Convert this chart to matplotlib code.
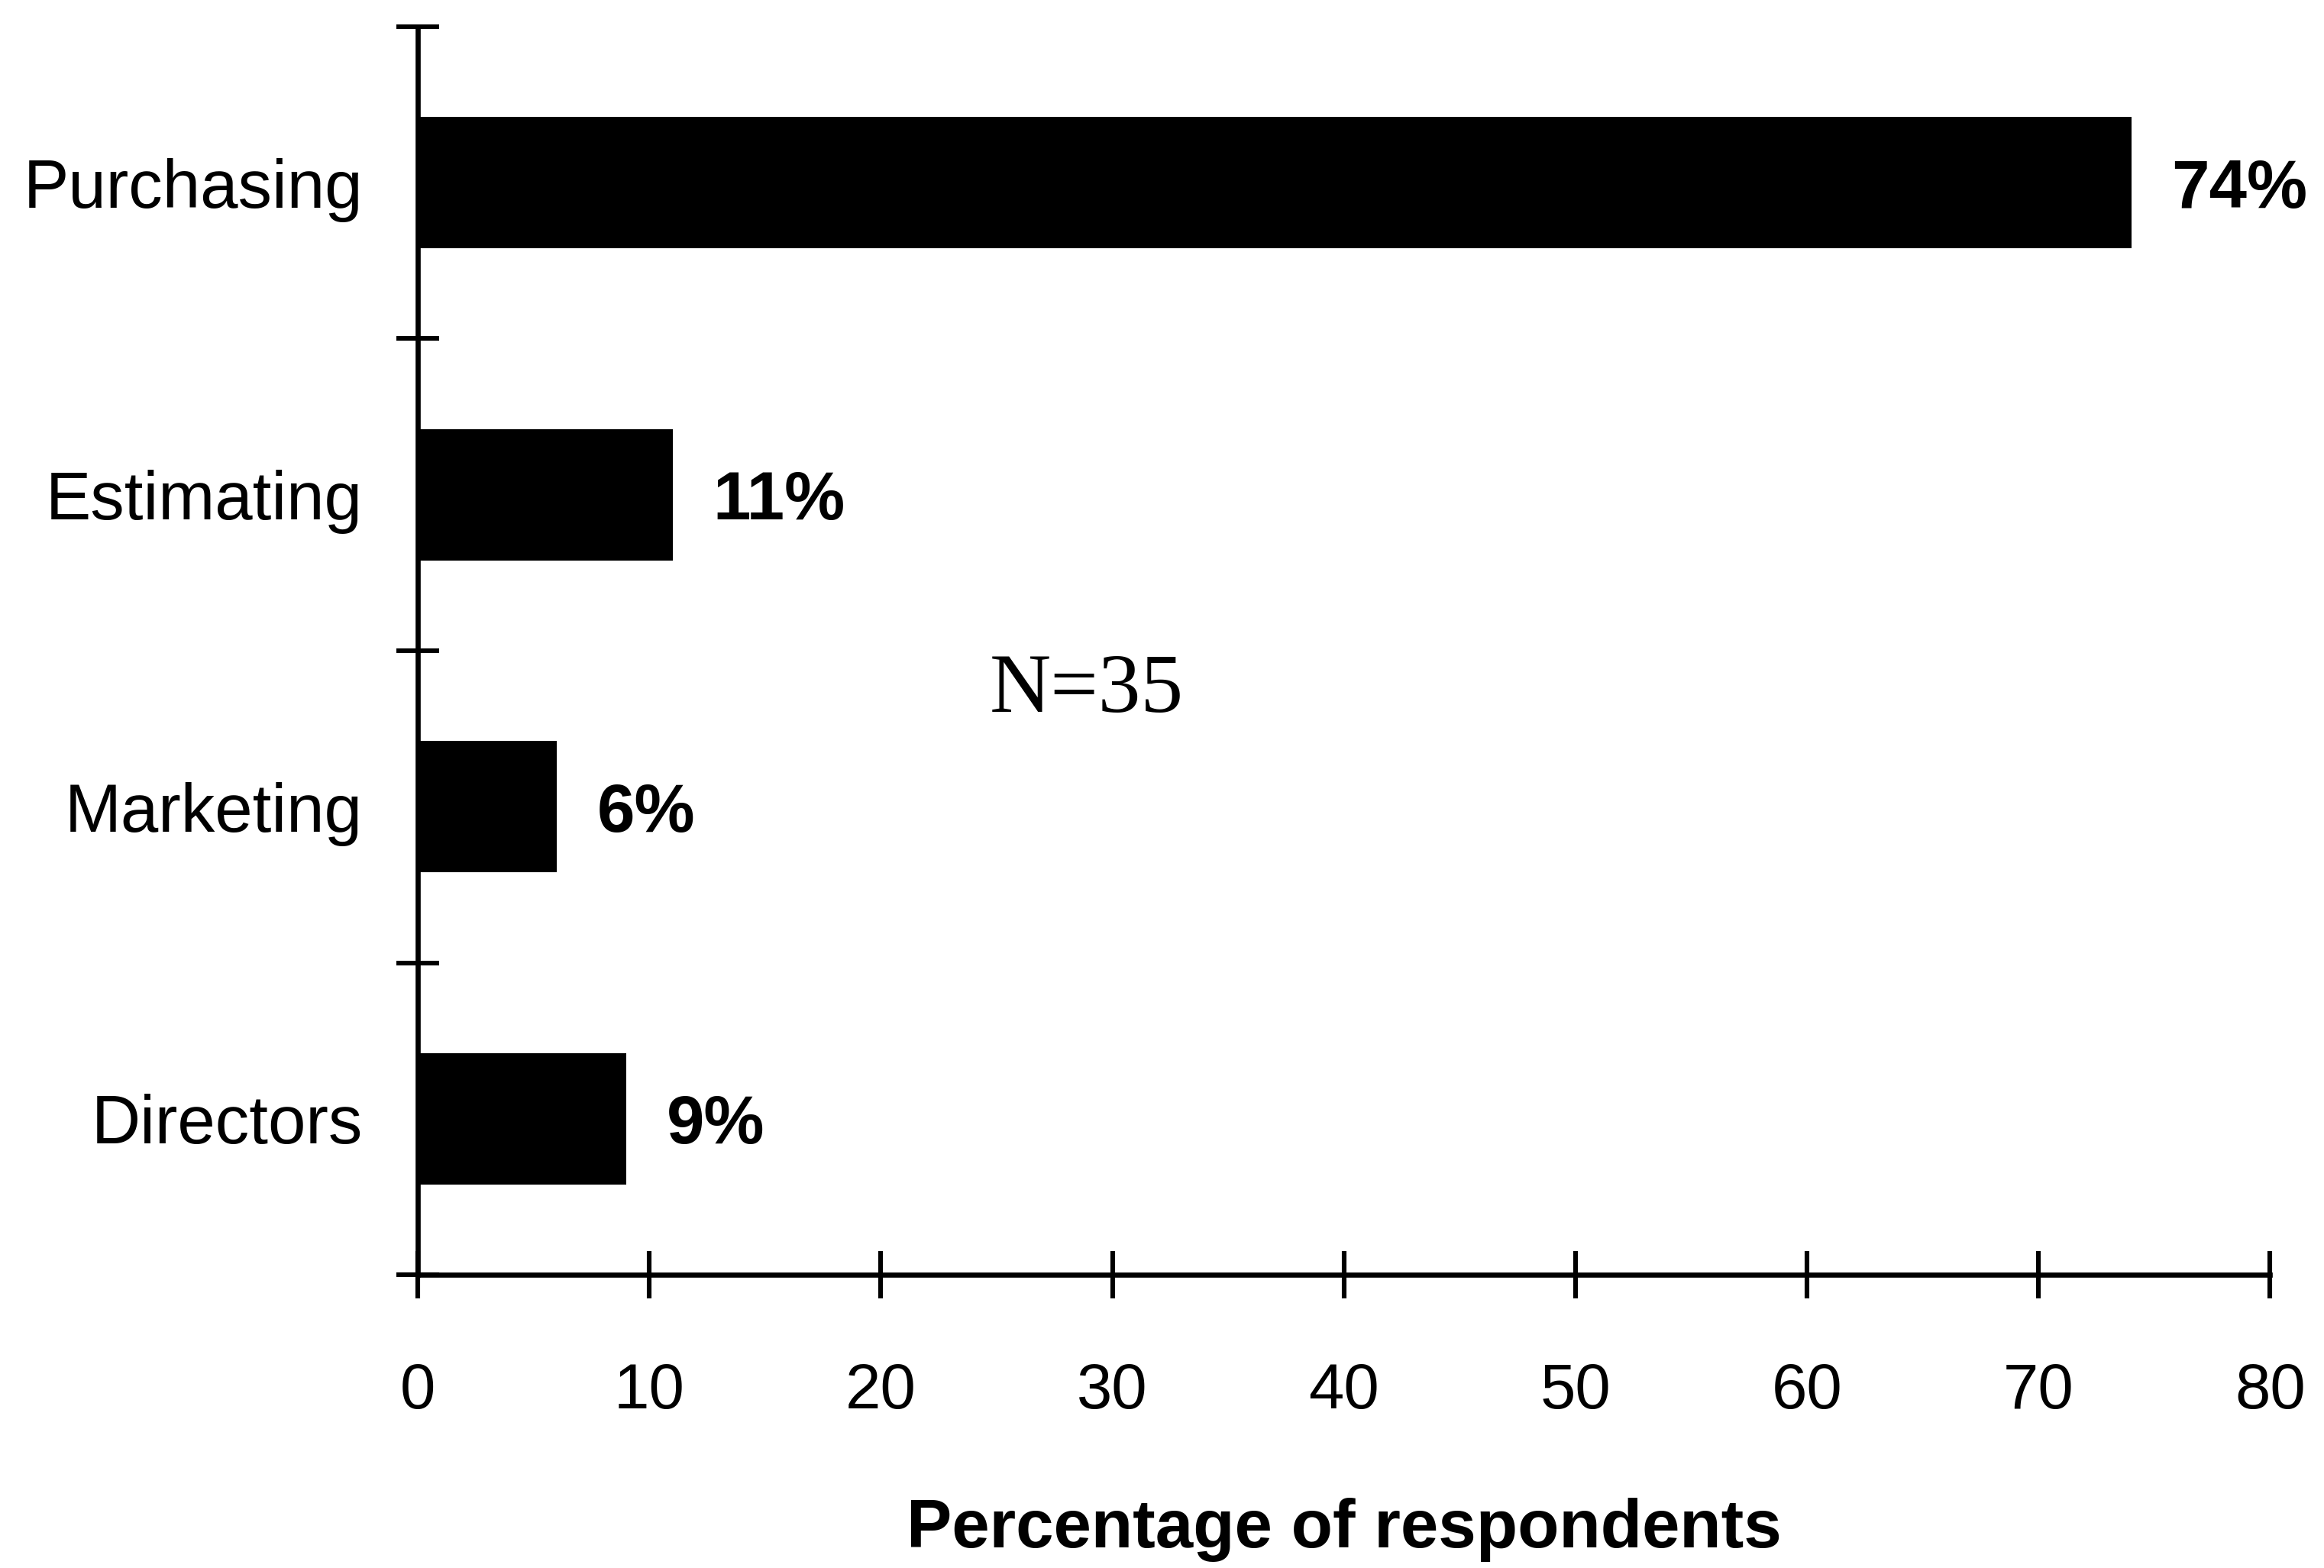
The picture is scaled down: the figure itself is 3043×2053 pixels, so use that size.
import matplotlib
matplotlib.use("Agg")
import matplotlib.pyplot as plt
import numpy as np

# respondents by department
departments = ["Purchasing", "Estimating", "Marketing", "Directors"]
percent = [74, 11, 6, 9]
pct_labels = ["74%", "11%", "6%", "9%"]
x_ticks = [0, 10, 20, 30, 40, 50, 60, 70, 80]
sample_note = "N=35"

plt.rcParams['font.family'] = ['Liberation Sans', 'DejaVu Sans']

fig = plt.figure(figsize=(15.215, 10.265), dpi=200)
ax = fig.add_axes([0.1798, 0.187, 0.797, 0.796])

pos = np.arange(len(departments))
bars = ax.barh(pos, percent, height=0.42, color='black')
texts = ax.bar_label(bars, labels=pct_labels, padding=19, fontsize=32,
                     fontweight='bold')
for t in texts:
    t.set_va('center_baseline')

ax.set_xlim(0, 80)
ax.set_ylim(len(departments) - 0.5, -0.5)

# category names sit on the bar centres, tick marks on the boundaries
ax.set_yticks(pos)
ax.set_yticklabels(departments, fontsize=32)
ax.tick_params(axis='y', which='major', length=0, pad=26)
ax.set_yticks(np.arange(-0.5, len(departments)), minor=True)
ax.tick_params(axis='y', which='minor', direction='inout', length=20, width=2.2)

ax.set_xticks(x_ticks)
ax.set_xticklabels([str(t) for t in x_ticks], fontsize=30)
ax.tick_params(axis='x', direction='inout', length=22, width=2.2, pad=30)

for side in ['top', 'right']:
    ax.spines[side].set_visible(False)
for side in ['left', 'bottom']:
    ax.spines[side].set_linewidth(2.4)

ax.set_xlabel("Percentage of respondents", fontsize=32, fontweight='bold',
              labelpad=36)

ax.text(28.9, 1.63, sample_note, fontsize=40, family='Liberation Serif',
        ha='center', va='center')

fig.savefig("out.png", dpi=200)
